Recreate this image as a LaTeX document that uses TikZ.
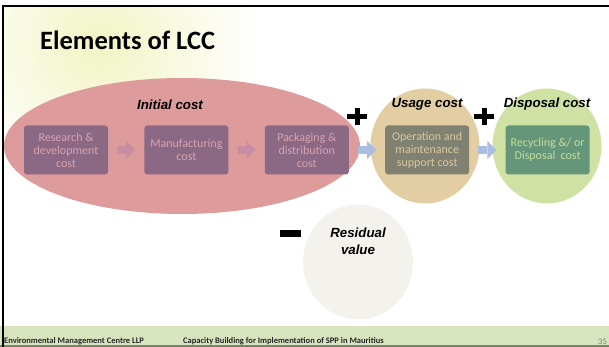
\documentclass[tikz,border=0pt]{standalone}
\usepackage{fontspec}
\setmainfont{Carlito}
\newfontfamily\arialfont{Liberation Sans}
\usepackage{tikz}
\usetikzlibrary{arrows.meta,positioning,shapes.geometric,calc}
\definecolor{lccred}{RGB}{222,155,155}
\definecolor{lccplum}{RGB}{139,104,132}
\definecolor{lccplumtxt}{RGB}{216,164,176}
\definecolor{lccpink}{RGB}{198,142,160}
\definecolor{lcctan}{RGB}{226,206,162}
\definecolor{lccslate}{RGB}{128,129,113}
\definecolor{lccslatetxt}{RGB}{218,200,160}
\definecolor{lcclime}{RGB}{207,226,164}
\definecolor{lccteal}{RGB}{101,150,121}
\definecolor{lcctealtxt}{RGB}{196,222,160}
\definecolor{lccblue}{RGB}{170,190,226}
\definecolor{lccgrey}{RGB}{243,242,236}
\definecolor{lccfoot}{RGB}{216,228,189}
\definecolor{lccfootline}{RGB}{120,130,110}
\definecolor{lcclemon}{RGB}{242,244,196}
\tikzset{
  costbox/.style={rounded corners=3pt, minimum width=84, minimum height=49, inner sep=0pt,
    align=center, font=\fontsize{12}{13}\selectfont},
  phase/.style={ellipse, inner sep=0pt},
  phaselabel/.style={font=\arialfont\bfseries\itshape\fontsize{13.3}{15}\selectfont, align=center},
  flow/.style={line width=8pt, -{Triangle[length=9pt,width=18pt,line width=0pt]},
    shorten <=9pt, shorten >=9pt},
  footer/.style={font=\bfseries\fontsize{8.5}{10}\selectfont, inner sep=0pt, text=black!85},
}

\begin{document}
\begin{tikzpicture}[x=1pt, y=-1pt]
  \useasboundingbox (0,0) rectangle (609,347);

  % Background
  \begin{scope}
    \clip (3,6) rectangle (320,200);
    \shade[inner color=lcclemon, outer color=white] (100,45) circle (160);
  \end{scope}

  % Footer band
  \fill[lccfoot] (0,326) rectangle (609,345);
  \draw[lccfootline, line width=1.5pt] (0,346) -- (609,346);

  % Frame
  \draw[line width=2.5pt] (3,347) |- (609,6);

  % Title
  \node[font=\bfseries\fontsize{26.5}{30}\selectfont, anchor=base west, inner sep=0pt] (title) at (40,50) {Elements of LCC};

  % Phases
  \node[phase, fill=lccred, minimum width=356, minimum height=136] (initial) at (182,146) {};
  \node[phase, fill=lcctan, minimum width=109, minimum height=115] (usage) at (425,146) {};
  \node[phase, fill=lcclime, minimum width=109, minimum height=115] (disposal) at (547,146) {};
  \node[phase, fill=lccgrey, minimum width=110, minimum height=115] (residual) at (358,262) {};

  % Phase labels
  \node[phaselabel] (initlbl) at (170,105) {Initial cost};
  \node[phaselabel] (usagelbl) at (427,104) {Usage cost};
  \node[phaselabel] (displbl) at (547,104) {Disposal cost};
  \node[phaselabel, font=\arialfont\bfseries\itshape\fontsize{13.3}{16.5}\selectfont] (residlbl) at (358,241) {Residual\\value};

  % Cost boxes
  \node[costbox, fill=lccplum, text=lccplumtxt] (research) at (66,150) {Research \&\\development\\cost};
  \node[costbox, fill=lccplum, text=lccplumtxt, right=36 of research] (manufact) {Manufacturing\\cost};
  \node[costbox, fill=lccplum, text=lccplumtxt, right=36 of manufact] (packaging) {Packaging \&\\distribution\\cost};
  \node[costbox, fill=lccslate, text=lccslatetxt, right=36 of packaging] (operation) {Operation and\\maintenance\\support cost};
  \node[costbox, fill=lccteal, text=lcctealtxt, right=36 of operation] (recycling) {Recycling \&/ or\\Disposal~ cost};

  % Flow arrows
  \draw[flow, lccpink] (research) -- (manufact);
  \draw[flow, lccpink] (manufact) -- (packaging);
  \draw[flow, lccblue] (packaging) -- (operation);
  \draw[flow, lccblue] (operation) -- (recycling);

  % Plus and minus signs
  \fill (347,114) rectangle (367,119);
  \fill (354.5,108) rectangle (359.5,125);
  \fill (474,114) rectangle (494,119);
  \fill (481.5,108) rectangle (486.5,125);
  \fill (280,230) rectangle (301,237);

  % Footer text
  \node[footer, anchor=west] (org) at (4,341.5) {Environmental Management Centre LLP};
  \node[footer, anchor=west] (course) at (183,341.5) {Capacity Building for Implementation of SPP in Mauritius};
  \node[footer, anchor=east, font=\fontsize{8.5}{10}\selectfont, text=gray] (page) at (607,341.5) {35};
\end{tikzpicture}
\end{document}
